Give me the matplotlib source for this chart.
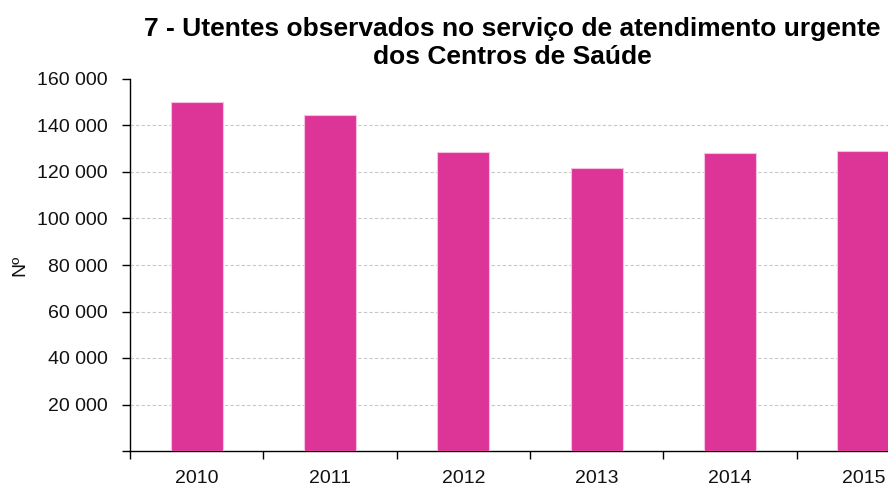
import matplotlib
matplotlib.use("Agg")
import matplotlib.pyplot as plt
from matplotlib.ticker import FuncFormatter

years = ["2010", "2011", "2012", "2013", "2014", "2015"]
values = [150000, 144500, 128400, 121700, 128000, 129000]
yticks = [0, 20000, 40000, 60000, 80000, 100000, 120000, 140000, 160000]
title = "7 - Utentes observados no serviço de atendimento urgente\ndos Centros de Saúde"

plt.rcParams['font.family'] = ['Liberation Sans', 'DejaVu Sans']

fig = plt.figure(figsize=(8.88, 4.86), dpi=100)
ax = fig.add_axes([130/888, 35/486, 800/888, 372/486])

x = list(range(len(years)))
ax.bar(x, values, width=0.39, color='#DD3497', edgecolor='#F7C0E0', linewidth=0.8, zorder=3)

ax.set_xlim(-0.5, len(years) - 0.5)
ax.set_ylim(0, 160000)
ax.set_yticks(yticks)
ax.yaxis.set_major_formatter(FuncFormatter(lambda v, p: "" if v == 0 else f"{int(v):,}".replace(",", " ")))

ax.set_xticks(x)
ax.set_xticklabels(years)
ax.tick_params(axis='x', which='major', length=0, pad=14, labelsize=14, labelcolor='#111111')
ax.set_xticks([i - 0.5 for i in range(len(years) + 1)], minor=True)
ax.tick_params(axis='x', which='minor', length=6, width=1, direction='out', color='black')
ax.tick_params(axis='y', length=6, width=1, direction='out', labelsize=14, labelcolor='#111111', pad=10)

for v in yticks[1:-1]:
    ax.axhline(v, color='#C8C8C8', linestyle=(0, (3, 2)), linewidth=0.8, zorder=1)

for s in ['top', 'right']:
    ax.spines[s].set_visible(False)
for s in ['left', 'bottom']:
    ax.spines[s].set_color('black')
    ax.spines[s].set_linewidth(1)

ax.set_ylabel("Nº", fontsize=14, color='#111111', labelpad=6)

fig.text(512/888, 1 - 43/486, title, ha='center', va='center', fontsize=19,
         fontweight='bold', linespacing=1.2, color='black')

fig.savefig("out.png", dpi=100)
